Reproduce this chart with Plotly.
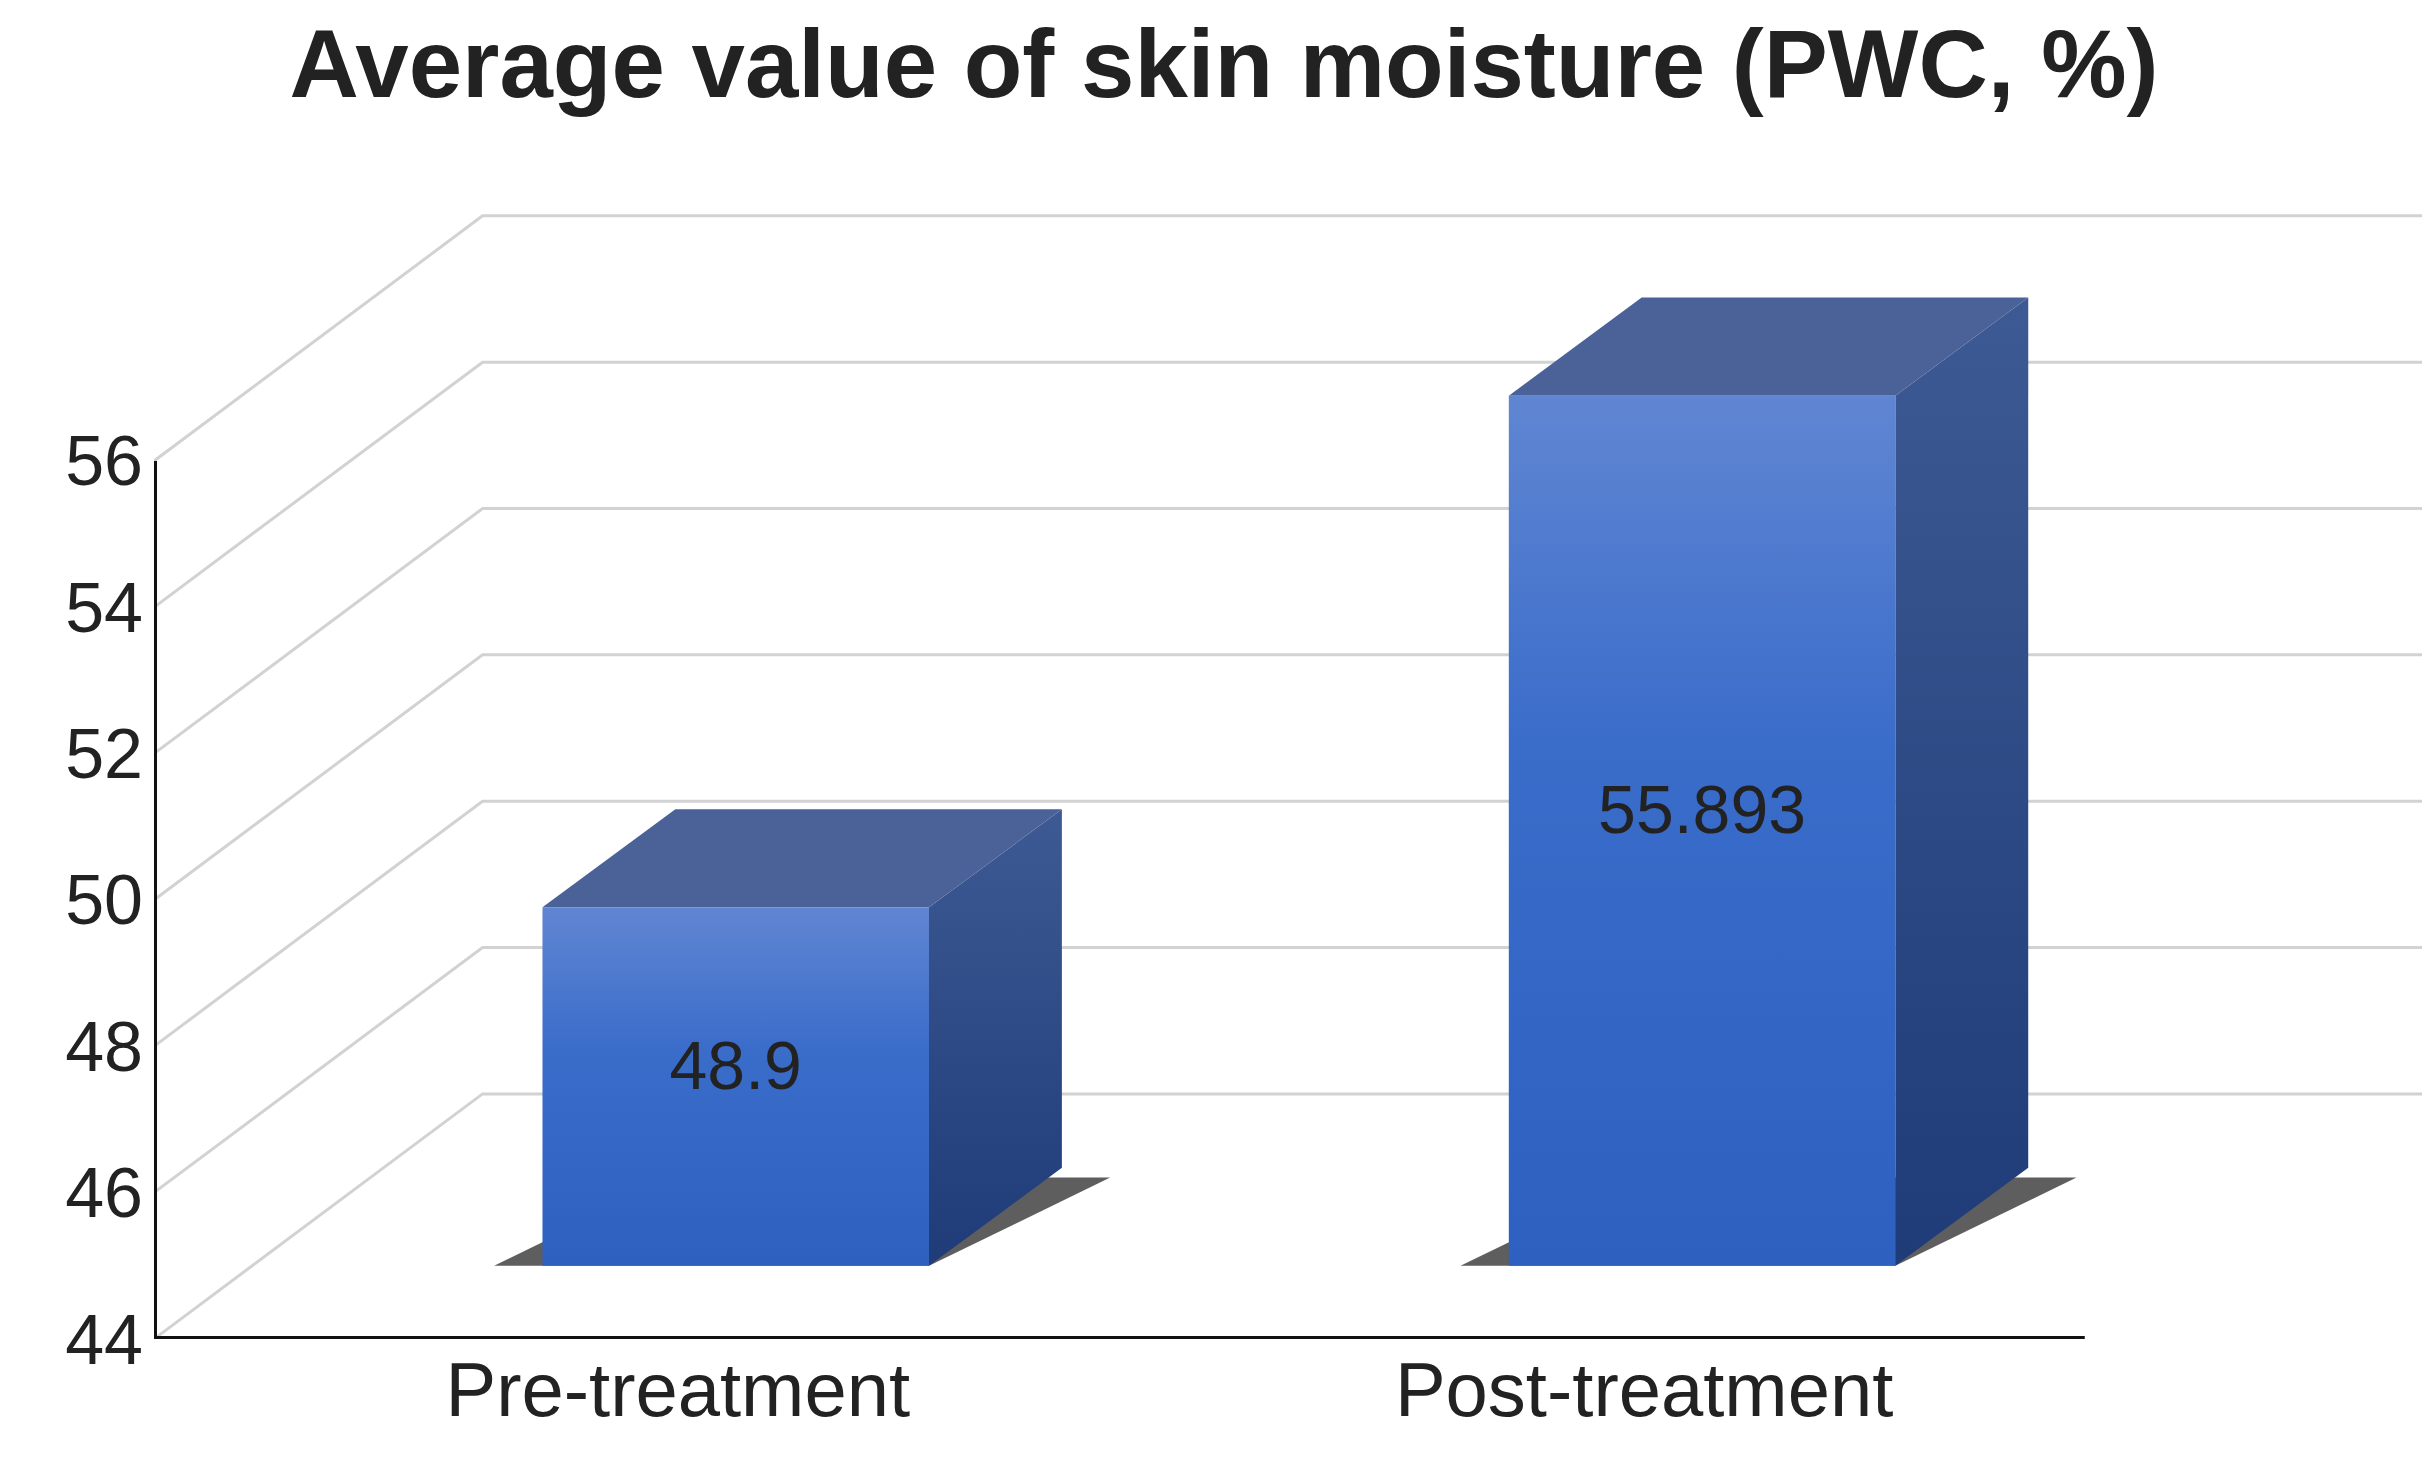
import plotly.graph_objects as go

categories = ["Pre-treatment", "Post-treatment"]
values = [48.9, 55.893]
labels = ["48.9", "55.893"]
tick_vals = [44, 46, 48, 50, 52, 54, 56]

# styling / geometry constants
Y0 = 44
X_LEFT = -0.602
X_RIGHT = 1.745
X_AXIS_END = 1.396
Y_TOP = 59.43
FLOOR_DX, FLOOR_DY = 0.34, 3.35
BAR_HW = 0.2
BAR_DX, BAR_DY = 0.1375, 1.34
LIFT = 1.0

fig = go.Figure()

for v in tick_vals:
    fig.add_trace(go.Scatter(x=[X_LEFT, X_LEFT + FLOOR_DX, X_RIGHT], y=[v, v + FLOOR_DY, v + FLOOR_DY],
                             mode="lines", line=dict(color="#d2d2d2", width=3),
                             hoverinfo="skip", showlegend=False))

for i, v in enumerate(values):
    xl, xr = i - BAR_HW, i + BAR_HW
    b, t = Y0 + LIFT, v + LIFT
    fig.add_trace(go.Scatter(x=[xl - 0.05, xr, xr + BAR_DX + 0.05, xl + BAR_DX, xl - 0.05],
                             y=[b, b, b + BAR_DY * 0.9, b + BAR_DY * 0.9, b],
                             fill="toself", fillcolor="rgba(40,40,40,0.75)", line=dict(width=0),
                             mode="lines", hoverinfo="skip", showlegend=False))
    fig.add_trace(go.Scatter(x=[xr, xr + BAR_DX, xr + BAR_DX, xr, xr],
                             y=[b, b + BAR_DY, t + BAR_DY, t, b],
                             fill="toself", line=dict(width=0), mode="lines",
                             fillgradient=dict(type="vertical",
                                               colorscale=[[0, "#1f3b78"], [1, "#3e5a94"]]),
                             hoverinfo="skip", showlegend=False))
    fig.add_trace(go.Scatter(x=[xl, xr, xr + BAR_DX, xl + BAR_DX, xl],
                             y=[t, t, t + BAR_DY, t + BAR_DY, t],
                             fill="toself", fillcolor="#4a6298", line=dict(width=0), mode="lines",
                             hoverinfo="skip", showlegend=False))
    fig.add_trace(go.Scatter(x=[xl, xr, xr, xl, xl], y=[b, b, t, t, b],
                             fill="toself", line=dict(width=0), mode="lines",
                             fillgradient=dict(type="vertical",
                                               colorscale=[[0, "#2e60c0"], [0.6, "#3a6cca"], [1, "#6086d2"]]),
                             hoverinfo="skip", showlegend=False))
    fig.add_trace(go.Scatter(x=[i], y=[(b + t) / 2 + 0.2], mode="text", text=[labels[i]],
                             textfont=dict(size=68, color="#222222", family="Liberation Sans"),
                             hoverinfo="skip", showlegend=False))

fig.add_trace(go.Scatter(x=[X_LEFT, X_LEFT, X_AXIS_END], y=[tick_vals[-1], Y0, Y0], mode="lines",
                         line=dict(color="#111111", width=6), hoverinfo="skip", showlegend=False))

fig.update_layout(
    width=2432, height=1469,
    paper_bgcolor="white", plot_bgcolor="white",
    margin=dict(l=146, r=18, t=202, b=138),
    title=dict(text="<b>Average value of skin moisture (PWC, %)</b>", x=0.5, xanchor="center",
               y=0.985, yanchor="top",
               font=dict(size=96, color="#222222", family="Liberation Sans")),
    xaxis=dict(range=[X_LEFT, X_RIGHT], showgrid=False, zeroline=False, showline=False,
               tickvals=[-0.06, 0.94], ticktext=categories, ticks="",
               tickfont=dict(size=76, color="#222222", family="Liberation Sans")),
    yaxis=dict(range=[Y0, Y_TOP], showgrid=False, zeroline=False, showline=False,
               tickvals=tick_vals, ticks="", ticklabelstandoff=10,
               tickfont=dict(size=70, color="#222222", family="Liberation Sans")),
)

fig.write_html("out.html")
